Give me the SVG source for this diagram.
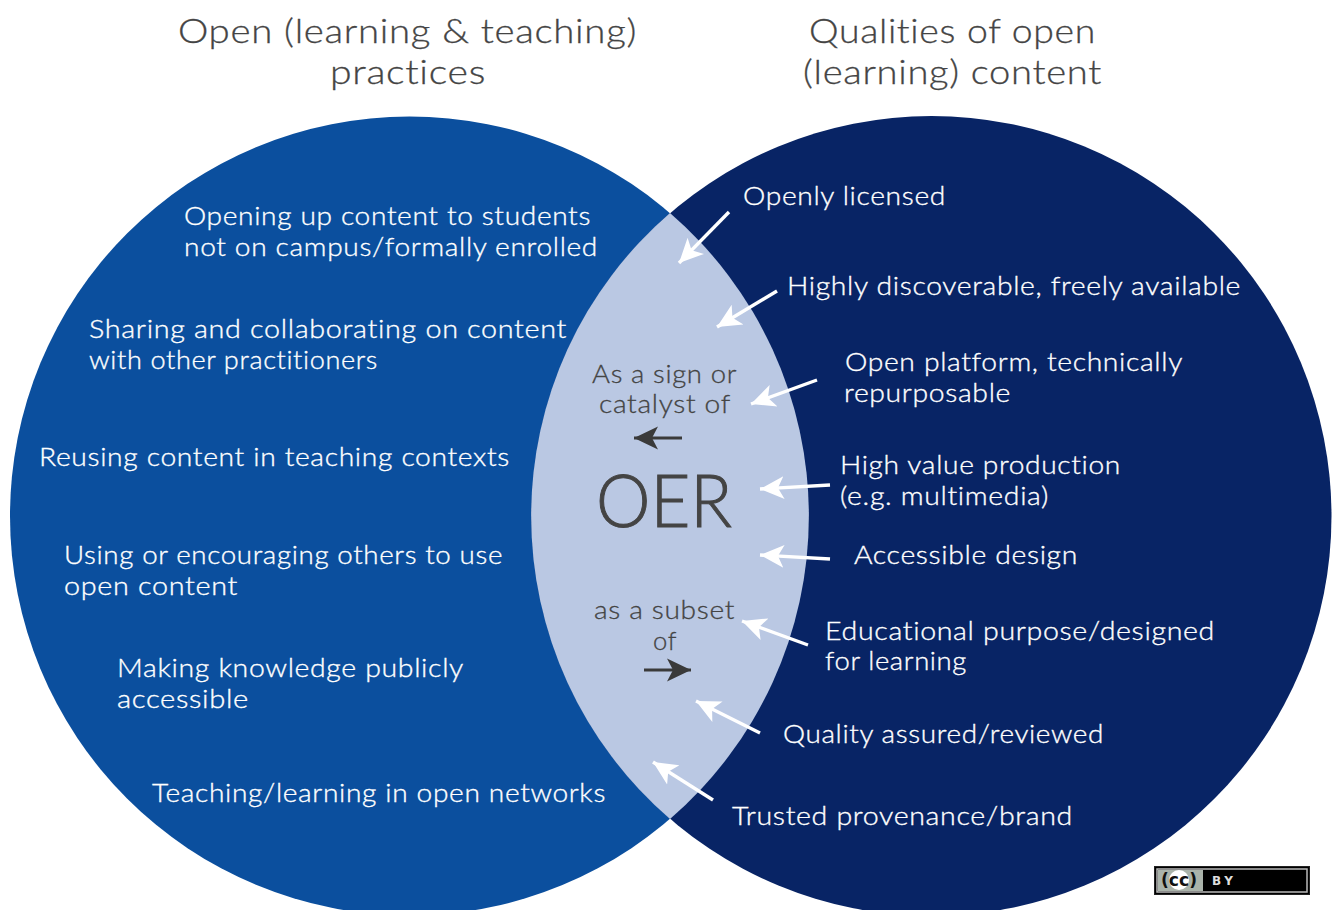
<svg xmlns="http://www.w3.org/2000/svg" width="1340" height="910" viewBox="0 0 1340 910">
<style>
text{font-family:"Lato","Open Sans",sans-serif}
.w{fill:#fff;stroke:#fff;stroke-width:.35px;font-size:26px;letter-spacing:.6px;font-weight:300}
.t{fill:#444;stroke:#444;stroke-width:.3px;font-size:34px;letter-spacing:.6px;font-weight:300}
.d{fill:#444;stroke:#444;stroke-width:.3px;font-size:25px;letter-spacing:.6px;font-weight:300}
.aw{stroke:#fff;stroke-width:3.4;fill:none;marker-end:url(#mw)}
.ad{stroke:#3a3a3a;stroke-width:3.2;fill:none;marker-end:url(#md)}
</style>
<defs>
<marker id="mw" markerUnits="userSpaceOnUse" markerWidth="26" markerHeight="26" refX="24" refY="13" orient="auto"><path d="M0 1.5L24 13L0 24.5L6 13Z" fill="#fff"/></marker>
<marker id="md" markerUnits="userSpaceOnUse" markerWidth="26" markerHeight="26" refX="24" refY="13" orient="auto"><path d="M0 1.5L24 13L0 24.5L6 13Z" fill="#3a3a3a"/></marker>
</defs>
<rect width="1340" height="910" fill="#fff"/>
<g id="circle-left"><circle cx="409.5" cy="516" r="399.5" fill="#0b4f9e"/></g>
<g id="circle-right"><circle cx="931.5" cy="516" r="400" fill="#082465"/></g>
<g id="overlap"><path d="M670 213A400 400 0 0 1 670 819A400 400 0 0 1 670 213Z" fill="#bac8e3"/></g>
<g id="titles">
<text class="t" x="178" y="43" textLength="459" lengthAdjust="spacingAndGlyphs">Open (learning &amp; teaching)</text>
<text class="t" x="330" y="84" textLength="156" lengthAdjust="spacingAndGlyphs">practices</text>
<text class="t" x="809" y="43" textLength="287" lengthAdjust="spacingAndGlyphs">Qualities of open</text>
<text class="t" x="803" y="84" textLength="299" lengthAdjust="spacingAndGlyphs">(learning) content</text>
</g>
<g id="left-labels">
<text class="w" x="184" y="225" textLength="407" lengthAdjust="spacingAndGlyphs">Opening up content to students</text>
<text class="w" x="184" y="256" textLength="414" lengthAdjust="spacingAndGlyphs">not on campus/formally enrolled</text>
<text class="w" x="89" y="338" textLength="478" lengthAdjust="spacingAndGlyphs">Sharing and collaborating on content</text>
<text class="w" x="89" y="369" textLength="289" lengthAdjust="spacingAndGlyphs">with other practitioners</text>
<text class="w" x="39" y="466" textLength="471" lengthAdjust="spacingAndGlyphs">Reusing content in teaching contexts</text>
<text class="w" x="64" y="564" textLength="439" lengthAdjust="spacingAndGlyphs">Using or encouraging others to use</text>
<text class="w" x="64" y="595" textLength="174" lengthAdjust="spacingAndGlyphs">open content</text>
<text class="w" x="117" y="677" textLength="347" lengthAdjust="spacingAndGlyphs">Making knowledge publicly</text>
<text class="w" x="117" y="708" textLength="132" lengthAdjust="spacingAndGlyphs">accessible</text>
<text class="w" x="152" y="802" textLength="454" lengthAdjust="spacingAndGlyphs">Teaching/learning in open networks</text>
</g>
<g id="right-labels">
<text class="w" x="743" y="205" textLength="203" lengthAdjust="spacingAndGlyphs">Openly licensed</text>
<text class="w" x="787" y="295" textLength="454" lengthAdjust="spacingAndGlyphs">Highly discoverable, freely available</text>
<text class="w" x="845" y="371" textLength="338" lengthAdjust="spacingAndGlyphs">Open platform, technically</text>
<text class="w" x="844" y="402" textLength="167" lengthAdjust="spacingAndGlyphs">repurposable</text>
<text class="w" x="840" y="474" textLength="281" lengthAdjust="spacingAndGlyphs">High value production</text>
<text class="w" x="840" y="505" textLength="209" lengthAdjust="spacingAndGlyphs">(e.g. multimedia)</text>
<text class="w" x="854" y="564" textLength="224" lengthAdjust="spacingAndGlyphs">Accessible design</text>
<text class="w" x="825" y="640" textLength="390" lengthAdjust="spacingAndGlyphs">Educational purpose/designed</text>
<text class="w" x="825" y="670" textLength="142" lengthAdjust="spacingAndGlyphs">for learning</text>
<text class="w" x="783" y="743" textLength="321" lengthAdjust="spacingAndGlyphs">Quality assured/reviewed</text>
<text class="w" x="732" y="825" textLength="341" lengthAdjust="spacingAndGlyphs">Trusted provenance/brand</text>
</g>
<g id="center">
<text class="d" x="592" y="383" textLength="145" lengthAdjust="spacingAndGlyphs">As a sign or</text>
<text class="d" x="599" y="413" textLength="132" lengthAdjust="spacingAndGlyphs">catalyst of</text>
<text x="596" y="527" font-size="72" font-weight="300" fill="#444" stroke="#444" stroke-width="1" textLength="136" lengthAdjust="spacingAndGlyphs">OER</text>
<text class="d" x="594" y="619" textLength="141" lengthAdjust="spacingAndGlyphs">as a subset</text>
<text class="d" x="653" y="650" textLength="24" lengthAdjust="spacingAndGlyphs">of</text>
</g>
<g id="connectors">
<line class="aw" x1="729" y1="212" x2="679" y2="263"/>
<line class="aw" x1="777" y1="291" x2="717" y2="327"/>
<line class="aw" x1="817" y1="380" x2="751" y2="404"/>
<line class="aw" x1="830" y1="485" x2="760" y2="489"/>
<line class="aw" x1="830" y1="559" x2="760" y2="555"/>
<line class="aw" x1="808" y1="645" x2="742" y2="621"/>
<line class="aw" x1="760" y1="733" x2="696" y2="701"/>
<line class="aw" x1="713" y1="800" x2="653" y2="762"/>
<line class="ad" x1="682" y1="438" x2="634" y2="438"/>
<line class="ad" x1="644" y1="670" x2="691" y2="670"/>
</g>
<g id="cc-badge">
<rect x="1154.5" y="866.5" width="155" height="28" fill="#000" stroke="#222"/>
<rect x="1157" y="869" width="150" height="23" fill="#000" stroke="#bbb" stroke-width="1.5"/>
<rect x="1158" y="870" width="45" height="21" fill="#aab3aa"/>
<circle cx="1179" cy="880" r="10" fill="#fff"/>
<text x="1161" y="886" font-size="17" font-weight="bold" fill="#111" textLength="36" lengthAdjust="spacingAndGlyphs" style="font-family:'DejaVu Sans',sans-serif">(cc)</text>
<text x="1212" y="885" font-size="12" font-weight="bold" fill="#ddd" textLength="21" style="font-family:'DejaVu Sans',sans-serif">BY</text>
</g>
</svg>
